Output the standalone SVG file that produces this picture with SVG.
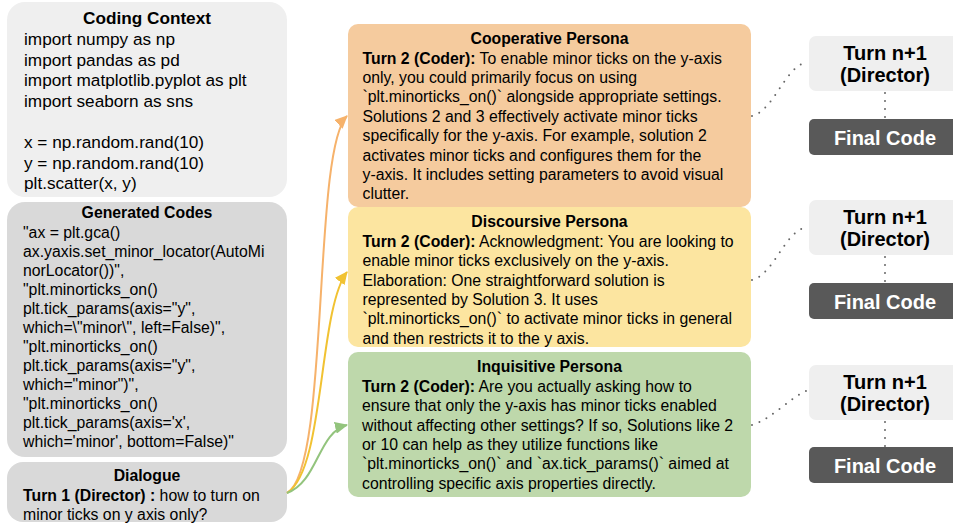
<svg xmlns="http://www.w3.org/2000/svg" width="953" height="524" viewBox="0 0 953 524">
<style>
text{font-family:"Liberation Sans",Arial,sans-serif;fill:#000}
.t17{font-size:17.2px}
.t16{font-size:15.8px}
.b{font-weight:bold}
.ttl{font-weight:bold;text-anchor:middle}
.rn{font-size:20px;font-weight:bold;text-anchor:middle}
.fc{font-size:20px;font-weight:bold;text-anchor:middle;fill:#fff}
.dot{fill:none;stroke:#666;stroke-width:2;stroke-dasharray:0 8;stroke-linecap:round}
.arr{fill:none;stroke-width:2}
</style>
<defs>
<marker id="mo" markerUnits="userSpaceOnUse" markerWidth="14" markerHeight="12" refX="12" refY="6" orient="auto"><path d="M0,0 L13,6 L0,12 z" fill="#f6b26b"/></marker>
<marker id="my" markerUnits="userSpaceOnUse" markerWidth="14" markerHeight="12" refX="12" refY="6" orient="auto"><path d="M0,0 L13,6 L0,12 z" fill="#f1c232"/></marker>
<marker id="mg" markerUnits="userSpaceOnUse" markerWidth="14" markerHeight="12" refX="12" refY="6" orient="auto"><path d="M0,0 L13,6 L0,12 z" fill="#93c47d"/></marker>
</defs>

<g id="coding-context">
<rect x="7" y="2" width="280" height="195" rx="18" fill="#efefef"/>
<text class="t17 ttl" x="147" y="24">Coding Context</text>
<text class="t17" x="24" y="45">import numpy as np</text>
<text class="t17" x="24" y="65.6">import pandas as pd</text>
<text class="t17" x="24" y="86.2">import matplotlib.pyplot as plt</text>
<text class="t17" x="24" y="106.8">import seaborn as sns</text>
<text class="t17" x="24" y="148">x = np.random.rand(10)</text>
<text class="t17" x="24" y="168.6">y = np.random.rand(10)</text>
<text class="t17" x="24" y="189.2">plt.scatter(x, y)</text>
</g>

<g id="generated-codes">
<rect x="7" y="202" width="280" height="255" rx="18" fill="#d9d9d9"/>
<text class="t16 ttl" x="147" y="217.5">Generated Codes</text>
<text class="t16" x="23" y="237.5">"ax = plt.gca()</text>
<text class="t16" x="23" y="256.5">ax.yaxis.set_minor_locator(AutoMi</text>
<text class="t16" x="23" y="275.6">norLocator())",</text>
<text class="t16" x="23" y="294.6">"plt.minorticks_on()</text>
<text class="t16" x="23" y="313.7">plt.tick_params(axis="y",</text>
<text class="t16" x="23" y="332.7">which=\"minor\", left=False)",</text>
<text class="t16" x="23" y="351.8">"plt.minorticks_on()</text>
<text class="t16" x="23" y="370.8">plt.tick_params(axis="y",</text>
<text class="t16" x="23" y="389.9">which="minor")",</text>
<text class="t16" x="23" y="408.9">"plt.minorticks_on()</text>
<text class="t16" x="23" y="428">plt.tick_params(axis='x',</text>
<text class="t16" x="23" y="447">which='minor', bottom=False)"</text>
</g>

<g id="dialogue">
<rect x="7" y="462" width="280" height="60" rx="16" fill="#d9d9d9"/>
<text class="t16 ttl" x="147" y="481">Dialogue</text>
<text class="t16" x="23" y="501"><tspan class="b">Turn 1 (Director) :</tspan> how to turn on</text>
<text class="t16" x="23" y="519.5">minor ticks on y axis only?</text>
</g>

<g id="cooperative">
<rect x="348" y="24" width="403" height="183" rx="10" fill="#f5cb9e"/>
<text class="t16 ttl" x="549.5" y="43.5">Cooperative Persona</text>
<text class="t16" x="362.5" y="63.5"><tspan class="b">Turn 2 (Coder):</tspan> To enable minor ticks on the y-axis</text>
<text class="t16" x="362.5" y="82.9">only, you could primarily focus on using</text>
<text class="t16" x="362.5" y="102.3">`plt.minorticks_on()` alongside appropriate settings.</text>
<text class="t16" x="362.5" y="121.7">Solutions 2 and 3 effectively activate minor ticks</text>
<text class="t16" x="362.5" y="141.1">specifically for the y-axis. For example, solution 2</text>
<text class="t16" x="362.5" y="160.5">activates minor ticks and configures them for the</text>
<text class="t16" x="362.5" y="179.9">y-axis. It includes setting parameters to avoid visual</text>
<text class="t16" x="362.5" y="199.3">clutter.</text>
</g>

<g id="discoursive">
<rect x="348" y="207" width="403" height="140" rx="10" fill="#fce5a0"/>
<text class="t16 ttl" x="549.5" y="227">Discoursive Persona</text>
<text class="t16" x="362.5" y="247"><tspan class="b">Turn 2 (Coder):</tspan> Acknowledgment: You are looking to</text>
<text class="t16" x="362.5" y="266.3">enable minor ticks exclusively on the y-axis.</text>
<text class="t16" x="362.5" y="285.6">Elaboration: One straightforward solution is</text>
<text class="t16" x="362.5" y="304.9">represented by Solution 3. It uses</text>
<text class="t16" x="362.5" y="324.2">`plt.minorticks_on()` to activate minor ticks in general</text>
<text class="t16" x="362.5" y="343.5">and then restricts it to the y axis.</text>
</g>

<g id="inquisitive">
<rect x="348" y="352" width="403" height="145" rx="10" fill="#bed8ab"/>
<text class="t16 ttl" x="549.5" y="372">Inquisitive Persona</text>
<text class="t16" x="362" y="392"><tspan class="b">Turn 2 (Coder):</tspan> Are you actually asking how to</text>
<text class="t16" x="362" y="411.3">ensure that only the y-axis has minor ticks enabled</text>
<text class="t16" x="362" y="430.6">without affecting other settings? If so, Solutions like 2</text>
<text class="t16" x="362" y="449.9">or 10 can help as they utilize functions like</text>
<text class="t16" x="362" y="469.2">`plt.minorticks_on()` and `ax.tick_params()` aimed at</text>
<text class="t16" x="362" y="488.5">controlling specific axis properties directly.</text>
</g>

<g id="turn-1">
<rect x="809" y="36" width="160" height="55" rx="7" fill="#efefef"/>
<text class="rn" x="885" y="60">Turn n+1</text>
<text class="rn" x="885" y="82">(Director)</text>
</g>
<g id="final-1">
<rect x="809" y="119" width="160" height="36" rx="5" fill="#595959"/>
<text class="fc" x="885" y="145">Final Code</text>
</g>
<g id="turn-2">
<rect x="809" y="200" width="160" height="55" rx="7" fill="#efefef"/>
<text class="rn" x="885" y="224">Turn n+1</text>
<text class="rn" x="885" y="246">(Director)</text>
</g>
<g id="final-2">
<rect x="809" y="283" width="160" height="36" rx="5" fill="#595959"/>
<text class="fc" x="885" y="309">Final Code</text>
</g>
<g id="turn-3">
<rect x="809" y="365" width="160" height="55" rx="7" fill="#efefef"/>
<text class="rn" x="885" y="389">Turn n+1</text>
<text class="rn" x="885" y="411">(Director)</text>
</g>
<g id="final-3">
<rect x="809" y="447" width="160" height="36" rx="5" fill="#595959"/>
<text class="fc" x="885" y="473">Final Code</text>
</g>

<g id="connectors">
<path class="arr" stroke="#f6b26b" d="M287,493 C330,470 312,150 347,116" marker-end="url(#mo)"/>
<path class="arr" stroke="#f1c232" d="M287,493 C325,470 318,310 347,272" marker-end="url(#my)"/>
<path class="arr" stroke="#93c47d" d="M287,493 C318,482 318,432 347,425" marker-end="url(#mg)"/>
<path class="dot" d="M752,116 C775,110 785,65 808,62"/>
<path class="dot" d="M752,280 C775,274 785,229 808,227"/>
<path class="dot" d="M752,425 C770,420 790,398 806,391"/>
<path class="dot" d="M885,93 L885,119"/>
<path class="dot" d="M885,257 L885,283"/>
<path class="dot" d="M885,422 L885,447"/>
</g>
</svg>
